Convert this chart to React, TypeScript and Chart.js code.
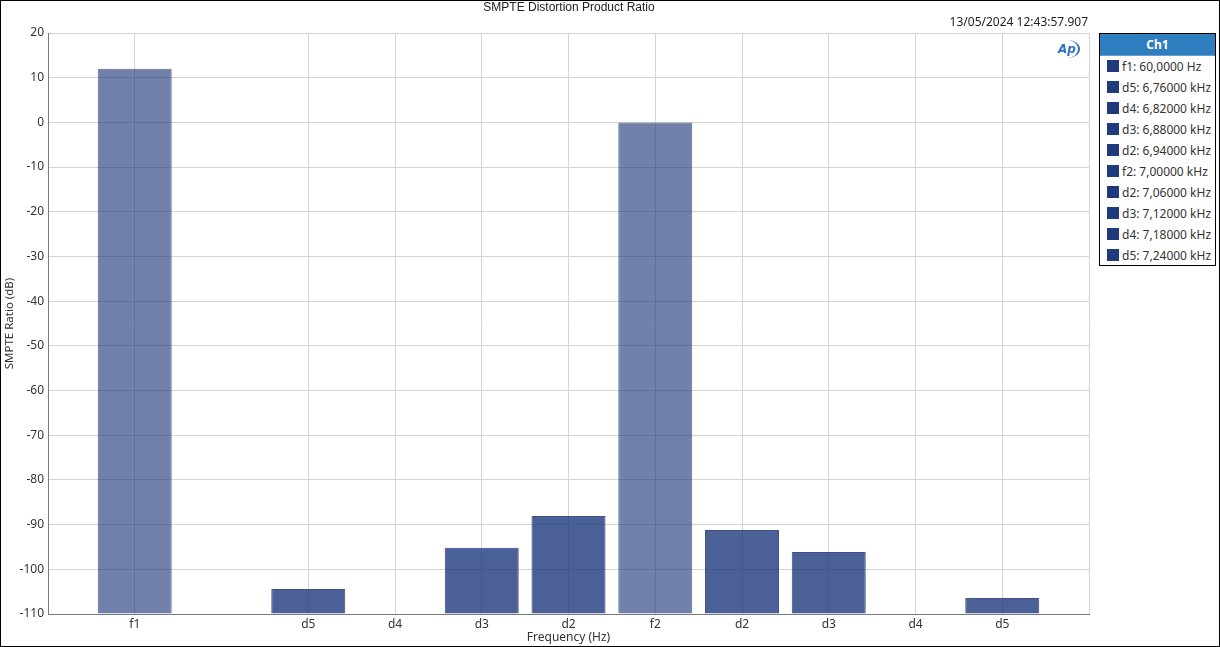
import React, { useEffect, useRef } from "react";
import { Chart, registerables } from "chart.js";

Chart.register(...registerables);

// Category positions (empty strings are unused slots on the frequency axis)
const categories: string[] = ["", "f1", "", "d5", "d4", "d3", "d2", "f2", "d2", "d3", "d4", "d5", ""];
// SMPTE ratio in dB (null = below the -110 dB floor / no product)
const ratioValues: (number | null)[] = [null, 12, null, -104.4, null, -95.2, -88.1, 0, -91.2, -96.1, null, -106.4, null];
// which bars are fundamental tones (drawn lighter)
const isFundamental: boolean[] = [false, true, false, false, false, false, false, true, false, false, false, false, false];

const yTicks: number[] = [20, 10, 0, -10, -20, -30, -40, -50, -60, -70, -80, -90, -100, -110];

const legendItems: string[] = [
  "f1: 60,0000 Hz",
  "d5: 6,76000 kHz",
  "d4: 6,82000 kHz",
  "d3: 6,88000 kHz",
  "d2: 6,94000 kHz",
  "f2: 7,00000 kHz",
  "d2: 7,06000 kHz",
  "d3: 7,12000 kHz",
  "d4: 7,18000 kHz",
  "d5: 7,24000 kHz",
];

const chartTitle = "SMPTE Distortion Product Ratio";
const timestamp = "13/05/2024 12:43:57.907";

const FONT = "'Noto Sans', 'Open Sans', sans-serif";

export default function App() {
  const canvasRef = useRef<HTMLCanvasElement | null>(null);

  useEffect(() => {
    document.body.style.margin = "0";
    const canvas = canvasRef.current;
    if (!canvas) return;
    const chart = new Chart(canvas, {
      type: "bar",
      data: {
        labels: categories,
        datasets: [
          {
            data: ratioValues as any,
            base: -110,
            backgroundColor: isFundamental.map((f) =>
              f ? "rgba(30,56,124,0.63)" : "rgba(30,56,124,0.8)"
            ),
            borderColor: isFundamental.map((f) =>
              f ? "rgba(40,62,120,0.7)" : "rgba(30,50,110,0.85)"
            ),
            borderWidth: 1,
            barPercentage: 1,
            categoryPercentage: 0.853,
          } as any,
        ],
      },
      options: {
        responsive: false,
        animation: false,
        devicePixelRatio: 1,
        layout: { padding: { left: 0, top: 33, right: 131, bottom: 0 } },
        plugins: {
          legend: { display: false },
          tooltip: { enabled: false },
          title: { display: false },
        },
        scales: {
          x: {
            type: "category",
            offset: false,
            grid: {
              offset: false,
              drawTicks: false,
              color: (ctx: any) => {
                const i = ctx.index;
                if (i === 0) return "rgba(0,0,0,0)";
                if (categories[i] === "" && i !== categories.length - 1) return "rgba(0,0,0,0)";
                return "#d4d4d4";
              },
              lineWidth: 1,
            },
            border: { color: "#7a7a7a", width: 1 },
            ticks: {
              autoSkip: false,
              maxRotation: 0,
              padding: 3,
              color: "#333333",
              font: { family: FONT, size: 12 },
            },
            title: {
              display: true,
              text: "Frequency (Hz)",
              color: "#333333",
              font: { family: FONT, size: 12 },
              padding: { top: 0, bottom: 2 },
            },
            afterFit: (scale: any) => {
              scale.height = 33;
            },
          } as any,
          y: {
            min: -110,
            max: 20,
            afterBuildTicks: (scale: any) => {
              scale.ticks = yTicks.map((v) => ({ value: v }));
            },
            grid: {
              drawTicks: false,
              color: (ctx: any) => (ctx.tick && ctx.tick.value === -110 ? "rgba(0,0,0,0)" : "#d4d4d4"),
              lineWidth: 1,
            },
            border: { color: "#7a7a7a", width: 1 },
            ticks: {
              padding: 4,
              color: "#333333",
              font: { family: FONT, size: 12 },
            },
            title: {
              display: true,
              text: "SMPTE Ratio (dB)",
              color: "#333333",
              font: { family: FONT, size: 11.5 },
              padding: { top: 3, bottom: 0 },
            },
            afterFit: (scale: any) => {
              scale.width = 48;
            },
          } as any,
        },
      },
    });
    return () => chart.destroy();
  }, []);

  return (
    <div style={{ position: "relative", width: 1220, height: 647, background: "#fff", overflow: "hidden" }}>
      <canvas ref={canvasRef} width={1220} height={647} style={{ position: "absolute", left: 0, top: 0 }} />
      <div
        style={{
          position: "absolute",
          left: 0,
          top: 0,
          width: 1220,
          textAlign: "center",
          marginLeft: -41,
          fontFamily: "'Liberation Sans', Arial, sans-serif",
          fontSize: 12,
          lineHeight: "14px",
          color: "#222",
        }}
      >
        {chartTitle}
      </div>
      <div
        style={{
          position: "absolute",
          right: 1220 - 1088,
          top: 14,
          fontFamily: FONT,
          fontSize: 12,
          lineHeight: "16px",
          color: "#222",
          whiteSpace: "nowrap",
        }}
      >
        {timestamp}
      </div>
      <div
        style={{
          position: "absolute",
          left: 1056,
          top: 40,
          width: 24,
          height: 18,
          borderRadius: "50%",
          borderRight: "2px solid #2b74c7",
          boxSizing: "border-box",
          color: "#2b74c7",
          fontFamily: "'DejaVu Sans', sans-serif",
          fontWeight: 700,
          fontStyle: "italic",
          fontSize: 12,
          lineHeight: "18px",
          textAlign: "center",
        }}
      >
        Ap
      </div>
      <div
        style={{
          position: "absolute",
          left: 1099,
          top: 33,
          width: 117,
          height: 233,
          boxSizing: "border-box",
          border: "1px solid #000",
          background: "#fff",
          fontFamily: FONT,
        }}
      >
        <div
          style={{
            height: 21,
            background: "#2f7ec0",
            color: "#fff",
            fontWeight: 700,
            fontSize: 12,
            lineHeight: "21px",
            textAlign: "center",
            borderBottom: "1px solid #6a9ccc",
          }}
        >
          Ch1
        </div>
        {legendItems.map((t, i) => (
          <div
            key={i}
            style={{
              position: "absolute",
              left: 7,
              top: 25 + i * 21,
              height: 14,
              display: "flex",
              alignItems: "center",
              whiteSpace: "nowrap",
              fontSize: 12,
              color: "#333",
            }}
          >
            <span
              style={{
                display: "inline-block",
                width: 12,
                height: 12,
                background: "#1f3a7d",
                marginRight: 3,
              }}
            />
            {t}
          </div>
        ))}
      </div>
      <div
        style={{
          position: "absolute",
          left: 0,
          top: 0,
          width: 1220,
          height: 647,
          boxSizing: "border-box",
          border: "1px solid #000",
          pointerEvents: "none",
        }}
      />
    </div>
  );
}
